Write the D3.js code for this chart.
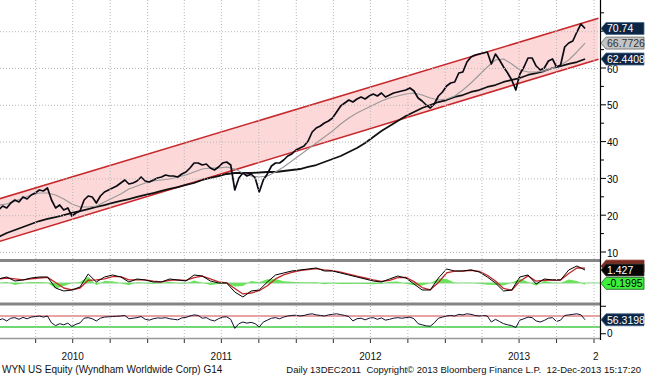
<!DOCTYPE html>
<html>
<head>
<meta charset="utf-8">
<script src="https://cdn.jsdelivr.net/npm/d3@7"></script>
<style>
body { margin: 0; background: #fff; }
svg { display: block; }
text { font-family: "Liberation Sans", Arial, sans-serif; }
</style>
</head>
<body>
<svg id="chart" width="645" height="376"></svg>
<script>
// price and RSI are sampled every 10 days, the averages and MACD every 20 days
var priceStart = "2009-12-31", priceStepDays = 10;
var maStart = "2009-12-31", maStepDays = 20;

var price = [21.41, 22.50, 21.96, 23.32, 24.13, 23.59, 24.95, 24.40, 25.49, 26.03,
  26.85, 26.58, 27.39, 24.13, 21.96, 22.77, 21.41, 21.96, 19.78, 20.60,
  21.14, 24.13, 25.22, 24.95, 23.32, 25.22, 26.30, 26.85, 27.39, 27.93,
  28.75, 29.57, 28.48, 28.75, 29.29, 30.38, 29.29, 29.02, 29.57, 30.11,
  30.38, 30.92, 30.65, 30.65, 30.38, 31.20, 31.74, 32.83, 34.18, 34.18,
  33.64, 33.91, 32.83, 32.28, 33.10, 34.18, 34.46, 33.64, 26.85, 30.11,
  31.47, 30.65, 31.20, 30.11, 26.30, 29.57, 31.20, 33.37, 34.18, 34.18,
  35.00, 36.09, 36.63, 37.72, 38.26, 38.80, 40.16, 42.61, 43.70, 44.24,
  45.05, 45.60, 46.41, 48.04, 49.67, 50.49, 51.30, 50.76, 51.58, 52.12,
  51.58, 52.39, 52.93, 52.39, 53.21, 52.12, 52.66, 53.21, 53.48, 53.75,
  54.02, 54.57, 53.75, 51.85, 51.03, 49.95, 49.13, 50.22, 52.39, 53.48,
  55.11, 55.92, 56.20, 58.64, 58.91, 61.63, 62.99, 63.53, 63.80, 64.07,
  64.35, 61.09, 63.80, 62.17, 60.27, 58.64, 56.74, 54.02, 58.37, 60.27,
  62.72, 62.72, 60.54, 59.46, 60.00, 61.90, 62.45, 60.27, 60.82, 65.71,
  66.79, 67.34, 69.78, 71.96, 70.74];

var ma50 = [22.77, 23.04, 23.86, 24.67, 25.49, 26.03, 26.03, 25.49, 24.40, 23.04,
  22.23, 22.23, 22.50, 23.59, 24.67, 25.76, 27.12, 27.93, 28.75, 29.29,
  29.57, 29.84, 30.38, 30.92, 31.74, 32.55, 32.83, 32.83, 33.10, 32.55,
  31.47, 30.65, 30.38, 30.65, 31.74, 33.10, 34.73, 36.36, 37.99, 39.62,
  41.25, 42.88, 44.78, 46.41, 47.77, 48.86, 49.95, 51.03, 51.85, 52.39,
  52.93, 53.21, 52.66, 51.85, 51.30, 51.58, 52.39, 54.02, 55.92, 58.10,
  60.27, 62.17, 62.45, 61.09, 59.46, 58.91, 58.91, 59.18, 60.00, 60.82,
  62.17, 64.35, 66.7726];

var ma200 = [14.08, 15.16, 15.98, 16.79, 17.61, 18.42, 18.97, 19.51, 20.05, 20.60,
  21.14, 21.68, 22.23, 22.77, 23.32, 23.86, 24.40, 24.95, 25.49, 26.03,
  26.58, 27.12, 27.66, 28.21, 28.75, 29.57, 30.11, 30.65, 31.20, 31.47,
  31.47, 31.47, 31.60, 31.74, 31.74, 32.01, 32.28, 32.55, 33.10, 33.64,
  34.46, 35.27, 36.09, 37.17, 38.26, 39.62, 41.25, 42.88, 44.24, 45.60,
  46.96, 48.04, 49.13, 49.95, 50.76, 51.30, 52.12, 52.66, 53.48, 54.02,
  54.84, 55.38, 56.20, 56.74, 57.28, 58.10, 58.64, 59.18, 60.00, 60.54,
  61.09, 61.63, 62.4408];

var macd = [0.44, 0.66, 0.22, 0.33, 0.55, 0.66, 0.66, -0.55, -0.88, -0.77,
  -0.44, 0.99, 0.11, 0.66, 0.88, 0.66, 0.11, 0.44, 0.33, 0.11,
  0.11, 0.44, 0.33, 0.22, 0.88, 0.77, 0.22, 0.00, 0.00, -0.99,
  -1.54, -0.88, -0.77, 0.11, 0.88, 1.10, 1.32, 1.43, 1.54, 1.65,
  1.32, 1.32, 1.10, 0.88, 0.66, 0.44, 0.22, 0.11, 0.44, 0.77,
  0.55, -0.11, -0.77, -0.77, 0.55, 1.54, 1.32, 1.32, 1.43, 1.21,
  0.66, 0.00, -0.88, -0.77, 0.66, 0.88, -0.11, 0.44, 0.33, 0.33,
  1.43, 1.87, 1.427];

var macdSignal = [0.45, 0.55, 0.45, 0.35, 0.45, 0.55, 0.62, 0.05, -0.55, -0.75,
  -0.55, 0.30, 0.35, 0.45, 0.70, 0.70, 0.35, 0.35, 0.35, 0.20,
  0.12, 0.30, 0.35, 0.28, 0.60, 0.75, 0.45, 0.12, 0.02, -0.60,
  -1.20, -1.10, -0.85, -0.30, 0.45, 0.90, 1.18, 1.35, 1.48, 1.58,
  1.45, 1.35, 1.20, 0.98, 0.75, 0.55, 0.35, 0.18, 0.30, 0.60,
  0.62, 0.15, -0.50, -0.75, 0.05, 1.10, 1.30, 1.32, 1.40, 1.28,
  0.85, 0.22, -0.60, -0.80, 0.20, 0.78, 0.20, 0.30, 0.33, 0.33,
  1.05, 1.65, 1.63];

var macdHist = [-0.01, 0.11, -0.23, -0.02, 0.10, 0.11, 0.04, -0.60, -0.33, -0.02,
  0.11, 0.69, -0.24, 0.21, 0.18, -0.04, -0.24, 0.09, -0.02, -0.09,
  -0.01, 0.14, -0.02, -0.06, 0.28, 0.02, -0.23, -0.12, -0.02, -0.39,
  -0.34, 0.22, 0.08, 0.41, 0.43, 0.20, 0.14, 0.08, 0.06, 0.07,
  -0.13, -0.03, -0.10, -0.10, -0.09, -0.11, -0.13, -0.07, 0.14, 0.17,
  -0.07, -0.26, -0.27, -0.02, 0.50, 0.44, 0.02, 0.00, 0.03, -0.07,
  -0.19, -0.22, -0.28, 0.03, 0.46, 0.10, -0.31, 0.24, 0.03, 0.00,
  0.38, 0.22, -0.1995];

var rsi = [55, 60, 52, 62, 64, 58, 65, 60, 66, 68, 70, 66, 70,
  45, 35, 42, 38, 44, 32, 40, 45,
  62, 64, 60, 52, 62, 66, 67, 68, 69, 70, 72, 60, 62, 64, 68,
  58, 55, 60, 63, 62, 64, 60, 58, 56, 63, 65, 70, 74, 72, 62, 64, 56, 52, 60, 66, 67, 58,
  25, 42, 48, 44, 47, 42, 30, 48, 55,
  62, 64, 60, 66, 70, 72, 73, 70, 72, 76, 78, 74, 72, 70, 74, 76, 78, 75, 72, 68,
  52, 60, 62, 56, 62, 64, 58, 63, 55, 58, 62, 64, 62, 64, 66, 60,
  42, 38, 34, 33, 45,
  62, 66, 70, 72, 70, 76, 74, 78, 76, 72, 70, 72, 70,
  48, 58, 50, 42, 38, 35, 28,
  55, 60, 66, 64, 52, 48, 54, 62, 64, 50, 55,
  72, 74, 76, 78, 74, 56.3198];

var channelDates = ["2009-12-31", "2014-01-12"];
var channelUpper = [24.4, 73.5];
var channelLower = [12.8, 62.4];

var priceTicks = [10, 20, 30, 40, 50, 60, 70];
var priceLabels = [10, 20, 30, 40, 50, 60];   // 70 sits under the last-price tag
var rsiLevels = [30, 70];
var yearLabels = ["2010", "2011", "2012", "2013", "2014"];
var footLeft = "WYN US Equity (Wyndham Worldwide Corp) G14";
var footRight = "Daily 13DEC2011  Copyright\u00a9 2013 Bloomberg Finance L.P.  12-Dec-2013 15:17:20";

var parse = d3.timeParse("%Y-%m-%d");
function seriesDates(start, step, n) {
  var s = parse(start);
  return d3.range(n).map(function (i) { return d3.timeDay.offset(s, i * step); });
}
var pDates = seriesDates(priceStart, priceStepDays, price.length);
var mDates = seriesDates(maStart, maStepDays, ma50.length);

var svg = d3.select("#chart");
var plotW = 600;

var x = d3.scaleTime().domain([new Date(2010, 0, 1), new Date(2014, 0, 1)]).range([-1, 594]);
var yMain = d3.scaleLinear().domain([10, 60]).range([252, 68]);
var yMacd = d3.scaleLinear().domain([-2, 2]).range([301.2, 264.8]);
var yRsi = d3.scaleLinear().domain([30, 70]).range([327, 316]);

var defs = svg.append("defs");
function clip(id, x0, y0, w, h) {
  defs.append("clipPath").attr("id", id).append("rect")
    .attr("x", x0).attr("y", y0).attr("width", w).attr("height", h);
}
clip("cMain", 0, 0, plotW, 258);
clip("cMacd", 0, 262, plotW, 40);
clip("cRsi", 0, 305, plotW, 33);
clip("cLab", 0, 340, 598.5, 30);

var gMain = svg.append("g").attr("clip-path", "url(#cMain)");
var gMacd = svg.append("g").attr("clip-path", "url(#cMacd)");
var gRsi = svg.append("g").attr("clip-path", "url(#cRsi)");

// regression channel
var chan = channelDates.map(function (d, i) {
  return { d: parse(d), hi: channelUpper[i], lo: channelLower[i] };
});
gMain.append("path").datum(chan)
  .attr("fill", "#fdd8d8")
  .attr("d", d3.area().x(function (d) { return x(d.d); })
    .y0(function (d) { return yMain(d.lo); }).y1(function (d) { return yMain(d.hi); }));

// grid
var quarters = x.ticks(d3.timeMonth.every(3)).filter(function (d) { return x(d) > 5; });
svg.append("g").selectAll("line").data(quarters).enter().append("line")
  .attr("x1", function (d) { return x(d); }).attr("x2", function (d) { return x(d); })
  .attr("y1", 0).attr("y2", 338)
  .attr("stroke", "#b8b8b8").attr("stroke-dasharray", "1,2");
svg.append("g").selectAll("line").data(priceTicks).enter().append("line")
  .attr("x1", 0).attr("x2", plotW)
  .attr("y1", function (d) { return yMain(d) + 0.5; }).attr("y2", function (d) { return yMain(d) + 0.5; })
  .attr("stroke", "#b8b8b8").attr("stroke-dasharray", "1,2");

["hi", "lo"].forEach(function (k) {
  gMain.append("path").datum(chan)
    .attr("fill", "none").attr("stroke", "#c8282c").attr("stroke-width", 1.6)
    .attr("d", d3.line().x(function (d) { return x(d.d); }).y(function (d) { return yMain(d[k]); }));
});

function drawLine(g, dates, vals, y, color, w) {
  g.append("path").datum(vals)
    .attr("fill", "none").attr("stroke", color).attr("stroke-width", w)
    .attr("stroke-linejoin", "round")
    .attr("d", d3.line().x(function (d, i) { return x(dates[i]); }).y(function (d) { return y(d); }));
}
drawLine(gMain, mDates, ma200, yMain, "#111", 1.8);
drawLine(gMain, mDates, ma50, yMain, "#999", 1.1);
drawLine(gMain, pDates, price, yMain, "#0a0a14", 1.7);

// MACD panel
gMacd.append("path").datum(macdHist)
  .attr("fill", "#4ee03a").attr("opacity", 0.85)
  .attr("d", d3.area().x(function (d, i) { return x(mDates[i]); })
    .y0(yMacd(0)).y1(function (d) { return yMacd(d); }));
gMacd.append("line").attr("x1", 0).attr("x2", plotW)
  .attr("y1", yMacd(0)).attr("y2", yMacd(0))
  .attr("stroke", "#7fd67f").attr("stroke-width", 1);
drawLine(gMacd, mDates, macdSignal, yMacd, "#c0282a", 1.3);
drawLine(gMacd, mDates, macd, yMacd, "#000", 1);

// RSI panel
gRsi.append("line").attr("x1", 0).attr("x2", plotW)
  .attr("y1", yRsi(rsiLevels[1])).attr("y2", yRsi(rsiLevels[1]))
  .attr("stroke", "#d04848").attr("stroke-width", 1);
gRsi.append("line").attr("x1", 0).attr("x2", plotW)
  .attr("y1", yRsi(rsiLevels[0])).attr("y2", yRsi(rsiLevels[0]))
  .attr("stroke", "#72d872").attr("stroke-width", 2);
drawLine(gRsi, pDates, rsi, yRsi, "#101030", 1);

// panel separators and frame
[259, 302.5].forEach(function (yy) {
  svg.append("rect").attr("x", 0).attr("y", yy).attr("width", plotW).attr("height", 3).attr("fill", "#858585");
});
svg.append("line").attr("x1", 0).attr("x2", plotW).attr("y1", 338.5).attr("y2", 338.5)
  .attr("stroke", "#999").attr("stroke-width", 1.5);
svg.append("g").selectAll("line").data(quarters).enter().append("line")
  .attr("x1", function (d) { return x(d); }).attr("x2", function (d) { return x(d); })
  .attr("y1", 339).attr("y2", 343).attr("stroke", "#333");
svg.append("line").attr("x1", 600.5).attr("x2", 600.5).attr("y1", 0).attr("y2", 340)
  .attr("stroke", "#000").attr("stroke-width", 1.2);

// right axis ticks
var axisG = svg.append("g");
d3.range(10, 80, 5).forEach(function (v) {
  var major = v % 10 === 0;
  axisG.append("line").attr("x1", 601).attr("x2", major ? 606 : 604)
    .attr("y1", yMain(v)).attr("y2", yMain(v)).attr("stroke", "#000");
});
axisG.selectAll("text").data(priceLabels).enter().append("text")
  .attr("x", 607).attr("y", function (d) { return yMain(d) + 4.5; })
  .attr("font-size", 10).attr("fill", "#000").text(function (d) { return d; });
[0, 100].forEach(function (v) {
  axisG.append("line").attr("x1", 601).attr("x2", 606)
    .attr("y1", yRsi(v) - 1.5).attr("y2", yRsi(v) - 1.5).attr("stroke", "#000");
});
axisG.append("text").attr("x", 607).attr("y", yRsi(0) + 2).attr("font-size", 10).text("0");

// value tags
function tag(yc, txt, fill, color, stroke) {
  var h = 6;
  svg.append("path")
    .attr("d", "M601," + yc + "L606," + (yc - h) + "L644," + (yc - h) + "L644," + (yc + h) + "L606," + (yc + h) + "Z")
    .attr("fill", fill).attr("stroke", stroke).attr("stroke-width", 0.8);
  svg.append("text").attr("x", 607).attr("y", yc + 4)
    .attr("font-size", 10.5).attr("fill", color).text(txt);
}
var last = function (a) { return a[a.length - 1]; };
tag(yMain(last(price)), last(price), "#0d2544", "#fff", "#4a6a90");
tag(yMain(last(ma50)), last(ma50), "#c4c4c4", "#333", "#666");
tag(yMain(last(ma200)), last(ma200), "#0d2544", "#fff", "#4a6a90");
tag(yMacd(last(macdSignal)) - 2, "", "#7c2a1e", "#fff", "#7c2a1e");
tag(yMacd(last(macd)), last(macd), "#050505", "#fff", "#444");
tag(yMacd(last(macdHist)) - 1.5, last(macdHist), "#3cf03c", "#000", "#1a5a1a");
tag(yRsi(last(rsi)), last(rsi), "#0d2544", "#fff", "#4a6a90");

// year labels, centred on mid-year
svg.append("g").attr("clip-path", "url(#cLab)")
  .selectAll("text").data(yearLabels).enter().append("text")
  .attr("x", function (d) { return d === "2014" ? 593 : x(new Date(+d, 6, 1)); })
  .attr("y", 360)
  .attr("text-anchor", function (d) { return d === "2014" ? "start" : "middle"; })
  .attr("font-size", 10).attr("fill", "#111").text(function (d) { return d; });

svg.append("text").attr("x", 2).attr("y", 373).attr("font-size", 10).attr("fill", "#111").text(footLeft);
svg.append("text").attr("x", 641).attr("y", 373).attr("text-anchor", "end")
  .attr("font-size", 9.5).attr("fill", "#111").style("white-space", "pre").text(footRight);
</script>
</body>
</html>
